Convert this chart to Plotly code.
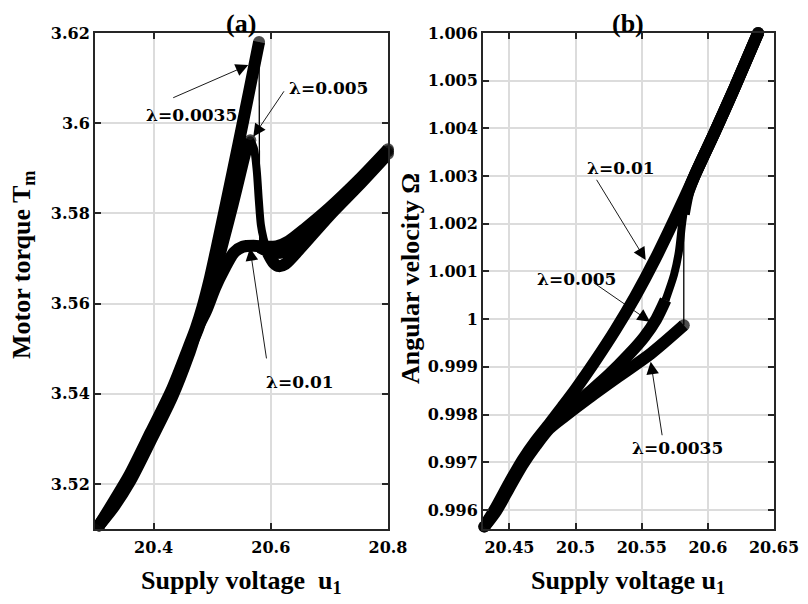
import plotly.graph_objects as go

# ---------------- panel (a): motor torque vs supply voltage ----------------
a_base_u = [20.307, 20.333, 20.359, 20.395, 20.432, 20.46]
a_base_T_0035 = [3.5108, 3.5163, 3.5220, 3.5314, 3.5412, 3.5504]
a_base_T_0005 = [3.5108, 3.5157, 3.5212, 3.5305, 3.5403, 3.5496]
a_base_T_001 = [3.5108, 3.5151, 3.5204, 3.5296, 3.5394, 3.5487]

a_up_0035_u = [20.472, 20.484, 20.495, 20.507, 20.525, 20.545, 20.563, 20.580]
a_up_0035_T = [3.5545, 3.5595, 3.565, 3.572, 3.583, 3.5955, 3.607, 3.618]
a_lo_0035_u = [20.581, 20.595, 20.61, 20.63, 20.66, 20.70, 20.75, 20.80]
a_lo_0035_T = [3.5725, 3.5716, 3.5712, 3.5718, 3.5755, 3.5805, 3.5868, 3.5938]

a_0005_u = [20.476, 20.49, 20.505, 20.52, 20.535, 20.548, 20.558, 20.565, 20.571,
            20.576, 20.5795, 20.583, 20.5875, 20.595, 20.605, 20.614, 20.625,
            20.65, 20.70, 20.75, 20.80]
a_0005_T = [3.5545, 3.5605, 3.567, 3.5745, 3.582, 3.589, 3.5941, 3.5962, 3.5945,
            3.5895, 3.583, 3.5775, 3.5745, 3.5712, 3.569, 3.5683, 3.5688,
            3.5722, 3.5795, 3.5862, 3.5932]

a_001_u = [20.475, 20.49, 20.505, 20.52, 20.537, 20.552, 20.571, 20.59, 20.61,
           20.63, 20.66, 20.70, 20.75, 20.80]
a_001_T = [3.5545, 3.5585, 3.5635, 3.5675, 3.5713, 3.5726, 3.5728, 3.5726, 3.5727,
           3.5738, 3.5768, 3.5812, 3.5874, 3.5942]

# ---------------- panel (b): angular velocity vs supply voltage ----------------
b_base_u = [20.431, 20.44, 20.45, 20.46, 20.47]
b_base_W_001 = [0.99565, 0.99606, 0.99657, 0.99705, 0.99745]
b_base_W_0005 = [0.99565, 0.99602, 0.99652, 0.99700, 0.99740]
b_base_W_0035 = [0.99565, 0.99598, 0.99647, 0.99695, 0.99735]

b_001_u = [20.48, 20.49, 20.50, 20.515, 20.53, 20.545, 20.56, 20.575, 20.59,
           20.605, 20.62, 20.638]
b_001_W = [0.99780, 0.99816, 0.99853, 0.99913, 0.99977, 1.00047, 1.00125, 1.00211,
           1.00301, 1.00391, 1.00484, 1.0060]

b_0005_u = [20.48, 20.492, 20.51, 20.525, 20.54, 20.552, 20.561, 20.568, 20.5744,
            20.578, 20.5805, 20.583, 20.59, 20.605, 20.62, 20.638]
b_0005_W = [0.99775, 0.99803, 0.99846, 0.99883, 0.99925, 0.99963, 1.0000, 1.0004,
            1.00093, 1.0014, 1.0020, 1.0025, 1.00301, 1.00391, 1.00484, 1.0060]

b_lo_0035_u = [20.48, 20.492, 20.51, 20.531, 20.557, 20.5818]
b_lo_0035_W = [0.99770, 0.99797, 0.99835, 0.99877, 0.99928, 0.99987]
b_up_0035_u = [20.5818, 20.5855, 20.59, 20.605, 20.62, 20.638]
b_up_0035_W = [1.0022, 1.0027, 1.00301, 1.00391, 1.00484, 1.0060]

# ticks
a_xticks = [20.4, 20.6, 20.8]
a_xlabels = ["20.4", "20.6", "20.8"]
a_yticks = [3.52, 3.54, 3.56, 3.58, 3.60, 3.62]
a_ylabels = ["3.52", "3.54", "3.56", "3.58", "3.6", "3.62"]
b_xticks = [20.45, 20.50, 20.55, 20.60, 20.65]
b_xlabels = ["20.45", "20.5", "20.55", "20.6", "20.65"]
b_yticks = [0.996, 0.997, 0.998, 0.999, 1.000, 1.001, 1.002, 1.003, 1.004, 1.005, 1.006]
b_ylabels = ["0.996", "0.997", "0.998", "0.999", "1", "1.001", "1.002", "1.003",
             "1.004", "1.005", "1.006"]

W_PX, H_PX = 808, 604
LW = 12      # solid, densely sampled stretches
LW_FAST = 8  # steep transition stretches, where the samples spread apart


def thick(xs, ys, xa, ya, caps=(True, True), width=LW):
    n = len(xs)
    sizes = [0] * n
    if caps[0]:
        sizes[0] = width
    if caps[1]:
        sizes[-1] = width
    return go.Scatter(
        x=xs, y=ys, xaxis=xa, yaxis=ya, mode="lines+markers",
        line=dict(color="black", width=width, shape="spline", smoothing=0.8),
        marker=dict(color="black", size=sizes, line=dict(width=0)),
        cliponaxis=False, showlegend=False, hoverinfo="skip",
    )


def thin(xs, ys, xa, ya):
    return go.Scatter(
        x=xs, y=ys, xaxis=xa, yaxis=ya, mode="lines",
        line=dict(color="black", width=1.3), showlegend=False, hoverinfo="skip",
    )


fig = go.Figure()

# panel (a)
fig.add_trace(thick(a_base_u + a_001_u, a_base_T_001 + a_001_T, "x", "y"))
# lambda = 0.005: rise to the hump, fast drop, then the recovering branch
pk, lo = 7, 13
fig.add_trace(thick(a_base_u + a_0005_u[:pk + 1], a_base_T_0005 + a_0005_T[:pk + 1], "x", "y"))
fig.add_trace(thick(a_0005_u[pk:lo + 1], a_0005_T[pk:lo + 1], "x", "y", width=LW_FAST))
fig.add_trace(thick(a_0005_u[lo:], a_0005_T[lo:], "x", "y", caps=(False, True)))
fig.add_trace(thick(a_base_u + a_up_0035_u, a_base_T_0035 + a_up_0035_T, "x", "y"))
fig.add_trace(thin([a_up_0035_u[-1], a_lo_0035_u[0]], [a_up_0035_T[-1], a_lo_0035_T[0]], "x", "y"))
fig.add_trace(thick(a_lo_0035_u, a_lo_0035_T, "x", "y", caps=(False, True)))

# panel (b)
fig.add_trace(thick(b_base_u + b_001_u, b_base_W_001 + b_001_W, "x2", "y2"))
s0, s1 = 7, 11
fig.add_trace(thick(b_base_u + b_0005_u[:s0 + 1], b_base_W_0005 + b_0005_W[:s0 + 1], "x2", "y2",
                    caps=(True, False)))
fig.add_trace(thick(b_0005_u[s0:s1 + 1], b_0005_W[s0:s1 + 1], "x2", "y2", width=LW_FAST))
fig.add_trace(thick(b_0005_u[s1:], b_0005_W[s1:], "x2", "y2", caps=(False, True)))
fig.add_trace(thick(b_base_u + b_lo_0035_u, b_base_W_0035 + b_lo_0035_W, "x2", "y2"))
fig.add_trace(thin([b_lo_0035_u[-1], b_up_0035_u[0]], [b_lo_0035_W[-1], b_up_0035_W[0]], "x2", "y2"))
fig.add_trace(thick(b_up_0035_u, b_up_0035_W, "x2", "y2", caps=(False, True)))

tick_font = dict(family="DejaVu Serif", size=16, color="black", weight="bold")
axis_common = dict(
    showline=True, linecolor="#262626", linewidth=2, mirror="ticks",
    ticks="inside", ticklen=6, tickwidth=2, tickcolor="#262626",
    showgrid=True, gridcolor="#dcdcdc", gridwidth=1.5,
    zeroline=False, tickfont=tick_font, fixedrange=True, automargin=False,
)

fig.update_layout(
    width=W_PX, height=H_PX,
    margin=dict(l=0, r=0, t=0, b=0, pad=0, autoexpand=False),
    paper_bgcolor="white", plot_bgcolor="white",
    xaxis=dict(axis_common, domain=[95 / W_PX, 388 / W_PX], range=[20.3, 20.8],
               tickvals=a_xticks, ticktext=a_xlabels, anchor="y", ticklabelstandoff=3),
    yaxis=dict(axis_common, domain=[75 / H_PX, 571 / H_PX], range=[3.51, 3.62],
               tickvals=a_yticks, ticktext=a_ylabels, anchor="x"),
    xaxis2=dict(axis_common, domain=[483 / W_PX, 774 / W_PX], range=[20.43, 20.65],
                tickvals=b_xticks, ticktext=b_xlabels, anchor="y2", ticklabelstandoff=3),
    yaxis2=dict(axis_common, domain=[75 / H_PX, 571 / H_PX], range=[0.9956, 1.006],
                tickvals=b_yticks, ticktext=b_ylabels, anchor="x2"),
)

label_font = dict(family="DejaVu Serif", size=17, color="black", weight="bold")
title_font = dict(family="Liberation Serif", size=26, color="black", weight="bold")
panel_font = dict(family="Liberation Serif", size=26, color="black", weight="bold")

ann = []
# curve labels
for xr, yr, x, y, t in [
    ("x", "y", 20.4655, 3.6018, "λ=0.0035"),
    ("x", "y", 20.6981, 3.6077, "λ=0.005"),
    ("x", "y", 20.6498, 3.5427, "λ=0.01"),
    ("x2", "y2", 20.5347, 1.003159, "λ=0.01"),
    ("x2", "y2", 20.5007, 1.000838, "λ=0.005"),
    ("x2", "y2", 20.5769, 0.997292, "λ=0.0035"),
]:
    ann.append(dict(xref=xr, yref=yr, x=x, y=y, text=t, showarrow=False,
                    font=label_font, xanchor="center", yanchor="middle"))

# pointer arrows: (head x, head y, tail x, tail y)
for xr, yr, hx, hy, tx, ty in [
    ("x", "y", 20.5616, 3.6129, 20.4309, 3.6055),
    ("x", "y", 20.5701, 3.5970, 20.6242, 3.6074),
    ("x", "y", 20.5645, 3.5723, 20.593, 3.5475),
    ("x2", "y2", 20.5530, 1.001240, 20.5152, 1.002953),
    ("x2", "y2", 20.5563, 0.999947, 20.5126, 1.000785),
    ("x2", "y2", 20.5568, 0.999108, 20.5656, 0.997535),
]:
    ann.append(dict(xref=xr, yref=yr, x=hx, y=hy, axref=xr, ayref=yr, ax=tx, ay=ty,
                    text="", showarrow=True, arrowhead=2, arrowsize=2.8,
                    arrowwidth=0.9, arrowcolor="black", standoff=0))

# panel titles
ann.append(dict(xref="paper", yref="paper", x=241 / W_PX, y=1 - 23 / H_PX, text="(a)",
                showarrow=False, font=panel_font, xanchor="center", yanchor="middle"))
ann.append(dict(xref="paper", yref="paper", x=628 / W_PX, y=1 - 23 / H_PX, text="(b)",
                showarrow=False, font=panel_font, xanchor="center", yanchor="middle"))

# axis titles
ann.append(dict(xref="paper", yref="paper", x=241 / W_PX, y=1 - 582 / H_PX,
                text="Supply voltage  u<sub>1</sub>", showarrow=False, font=title_font,
                xanchor="center", yanchor="middle"))
ann.append(dict(xref="paper", yref="paper", x=628 / W_PX, y=1 - 582 / H_PX,
                text="Supply voltage u<sub>1</sub>", showarrow=False, font=title_font,
                xanchor="center", yanchor="middle"))
ann.append(dict(xref="paper", yref="paper", x=23 / W_PX, y=1 - 265 / H_PX,
                text="Motor torque T<sub>m</sub>", showarrow=False, font=title_font,
                textangle=-90, xanchor="center", yanchor="middle"))
ann.append(dict(xref="paper", yref="paper", x=410 / W_PX, y=1 - 279 / H_PX,
                text="Angular velocity Ω", showarrow=False, font=title_font,
                textangle=-90, xanchor="center", yanchor="middle"))

fig.update_layout(annotations=ann)
fig.write_html("out.html")
